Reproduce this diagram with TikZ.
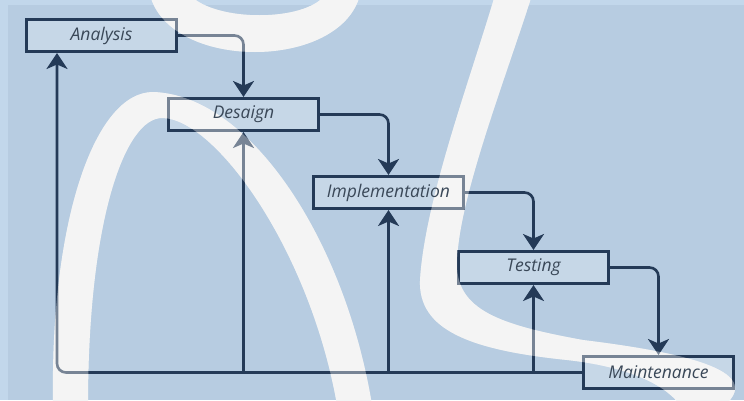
\documentclass[tikz,border=0pt]{standalone}
\usepackage{fontspec}
\setmainfont{Open Sans}
\usetikzlibrary{arrows.meta}
\definecolor{bgouter}{HTML}{C2D7EB}
\definecolor{bgmain}{HTML}{B7CCE1}
\definecolor{bandc}{HTML}{F4F4F4}
\definecolor{linec}{HTML}{243A57}
\definecolor{txtc}{HTML}{3A4858}
\newcommand{\wmbands}[1]{%
  \fill[bandc,#1] (150,-5) .. controls (170,71) and (340,71) .. (360,-5)
    -- (325,-5) .. controls (305,22) and (215,22) .. (190,-5) -- cycle;
  \fill[bandc,#1] (53,405) .. controls (50,220) and (95,92) .. (153,92)
    .. controls (250,95) and (345,240) .. (372,405)
    -- (337,405) .. controls (310,250) and (215,118) .. (162,118)
    .. controls (125,118) and (88,220) .. (88,405) -- cycle;
  \fill[bandc,#1] (495,-5) .. controls (470,80) and (425,200) .. (420,280)
    .. controls (418,330) and (470,350) .. (567,360)
    .. controls (630,367) and (665,385) .. (680,405)
    -- (725,405)
    .. controls (765,370) and (680,352) .. (583,340)
    .. controls (500,325) and (456,310) .. (457,263)
    .. controls (458,200) and (505,80) .. (532,-5) -- cycle;
}
\begin{document}
\begin{tikzpicture}[x=1pt,y=-1pt,
  phase/.style={draw=linec, line width=2.6pt, fill=white, fill opacity=0.22,
    minimum width=150.4pt, minimum height=32.4pt, inner sep=0pt},
  label/.style={font=\itshape\fontsize{17.5}{20}\selectfont, text=txtc, inner sep=0pt},
  tip/.style={-{Stealth[length=16pt,width=21pt,inset=4.5pt]}},
  flow/.style={draw=linec, line width=2.6pt, rounded corners=9pt, tip},
  branch/.style={draw=linec, line width=2.6pt, tip}]
\useasboundingbox (0,0) rectangle (744,400);
\fill[bgouter] (0,0) rectangle (744,400);
\fill[bgmain] (8,5) rectangle (744,400);
\begin{scope}
  \clip (0,0) rectangle (744,400);
  \wmbands{}
\end{scope}

\node[phase] (A) at (101.5,35.5) {};
\node[phase] (D) at (243.5,114.5) {};
\node[phase] (I) at (388.5,192.5) {};
\node[phase] (T) at (533.5,267.5) {};
\node[phase] (M) at (658.5,372.5) {};
\coordinate (fb) at (57,372.5);

\draw[flow] (A.east) -| (D.north);
\draw[flow] (D.east) -| (I.north);
\draw[flow] (I.east) -| (T.north);
\draw[flow] (T.east) -| (M.north);
\draw[flow] (M.west) -- (fb) -- (fb |- A.south);
\draw[branch] (D.south |- fb) -- (D.south);
\draw[branch] (I.south |- fb) -- (I.south);
\draw[branch] (T.south |- fb) -- (T.south);

\begin{scope}
  \clip (0,0) rectangle (744,400);
  \wmbands{opacity=0.4}
\end{scope}

\node[label] (tA) at (A) {Analysis};
\node[label] (tD) at (D) {Desaign};
\node[label] (tI) at (I) {Implementation};
\node[label] (tT) at (T) {Testing};
\node[label] (tM) at (M) {Maintenance};
\end{tikzpicture}
\end{document}
